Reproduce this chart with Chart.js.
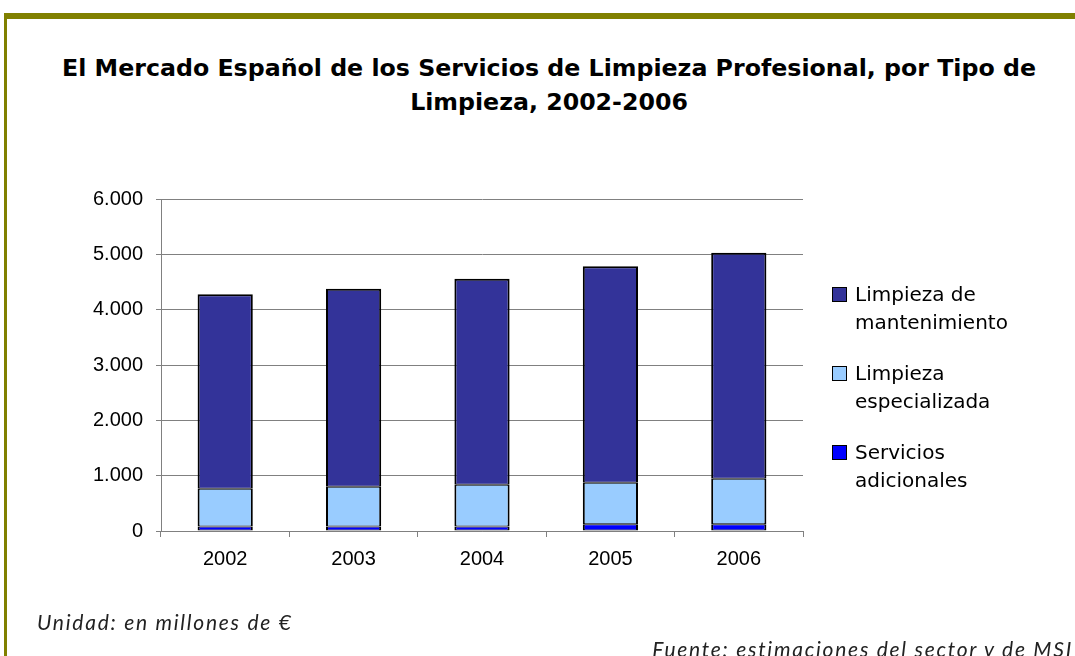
<!DOCTYPE html>
<html>
<head>
<meta charset="utf-8">
<script src="https://cdn.jsdelivr.net/npm/chart.js@4.4.1/dist/chart.umd.min.js"></script>
<style>
  html, body { margin: 0; padding: 0; background: #fff; overflow: hidden; }
  #wrap { position: relative; width: 1075px; height: 656px; }
  #frameTop { position: absolute; left: 4px; top: 13px; width: 1071px; height: 6px; background: #808000; }
  #frameLeft { position: absolute; left: 4px; top: 13px; width: 3px; height: 643px; background: #808000; }
  #title { position: absolute; left: 0; top: 51px; width: 1098px; text-align: center;
    font-family: "DejaVu Sans", sans-serif; font-weight: bold; font-size: 23.7px; line-height: 34px; color: #000; }
  #legend { position: absolute; left: 832px; top: 280px; font-family: "DejaVu Sans", sans-serif; font-size: 20px; color: #000; }
  .item { position: relative; padding-left: 23px; line-height: 28px; margin-bottom: 23px; }
  .box { position: absolute; left: 0; top: 7px; width: 13px; height: 13px; border: 1px solid #000; }
  .foot { position: absolute; font-family: "Lato", sans-serif; font-style: italic; font-size: 21px; letter-spacing: 1.75px; color: #222; white-space: nowrap; }
  canvas { position: absolute; left: 0; top: 0; }
</style>
</head>
<body>
<div id="wrap">
  <div id="frameTop"></div>
  <div id="frameLeft"></div>
  <div id="title">El Mercado Español de los Servicios de Limpieza Profesional, por Tipo de<br>Limpieza, 2002-2006</div>
  <canvas id="myChart" width="1075" height="656"></canvas>
  <div id="legend"></div>
  <div class="foot" style="left:37px; top:609px;">Unidad: en millones de €</div>
  <div class="foot" style="right:2px; top:636px;">Fuente: estimaciones del sector y de MSI</div>
</div>
<script>
const years = ["2002", "2003", "2004", "2005", "2006"];
const servicios = [80, 80, 80, 120, 120];
const especializada = [685, 720, 757, 753, 825];
const mantenimiento = [3515, 3580, 3723, 3912, 4085];
const yTicks = [0, 1000, 2000, 3000, 4000, 5000, 6000];

// top of the stack first, like the legend in the picture
const series = [
  { label: ["Limpieza de", "mantenimiento"], data: mantenimiento, color: "#333399", top: 2 },
  { label: ["Limpieza", "especializada"], data: especializada, color: "#99CCFF", top: 1 },
  { label: ["Servicios", "adicionales"], data: servicios, color: "#0000FF", top: 1 },
];

const legend = document.getElementById("legend");
series.forEach((s) => {
  const d = document.createElement("div");
  d.className = "item";
  d.innerHTML = '<span class="box" style="background:' + s.color + '"></span>' + s.label.join("<br>");
  legend.appendChild(d);
});

const fmt = (v) => v.toLocaleString("de-DE");

const ctx = document.getElementById("myChart").getContext("2d");
new Chart(ctx, {
  type: "bar",
  data: {
    labels: years,
    datasets: series.slice().reverse().map((s) => ({
      label: s.label.join(" "),
      data: s.data,
      backgroundColor: s.color,
      borderColor: "#000",
      borderWidth: { top: s.top, bottom: 1, left: 2, right: 2 },
      borderSkipped: false,
      categoryPercentage: 1,
      barPercentage: 0.43,
    })),
  },
  options: {
    responsive: false,
    animation: false,
    layout: { padding: { top: 199, right: 272, bottom: 85, left: 0 } },
    plugins: { legend: { display: false }, tooltip: { enabled: false } },
    scales: {
      x: {
        stacked: true,
        grid: { drawOnChartArea: false, drawTicks: true, tickLength: 6, color: "#808080" },
        border: { color: "#808080" },
        ticks: { color: "#000", padding: 10, font: { family: "Liberation Sans", size: 20 } },
        afterFit: (s) => { s.height = 40; },
      },
      y: {
        stacked: true,
        min: 0,
        max: 6000,
        afterBuildTicks: (s) => { s.ticks = yTicks.map((v) => ({ value: v })); },
        grid: { color: "#808080", tickLength: 5 },
        border: { color: "#808080" },
        ticks: { color: "#000", padding: 13, font: { family: "Liberation Sans", size: 20 }, callback: (v) => fmt(v) },
        afterFit: (s) => { s.width = 161; },
      },
    },
  },
});
</script>
</body>
</html>
